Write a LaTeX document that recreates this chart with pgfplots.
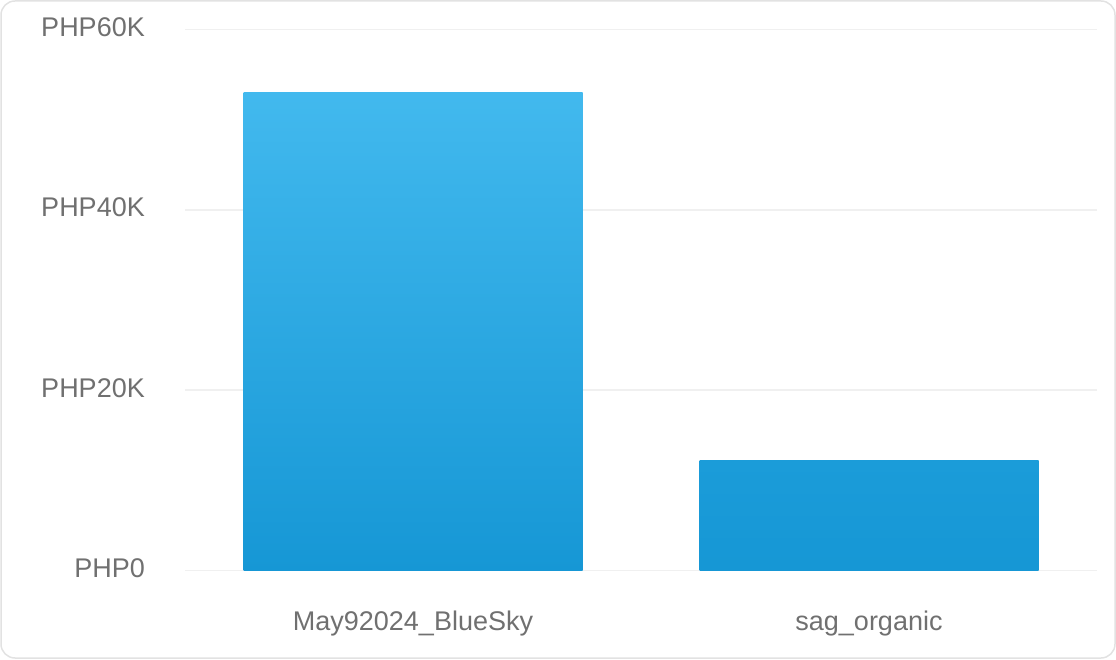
\documentclass[border=0pt]{standalone}
\usepackage{pgfplots}
\pgfplotsset{compat=1.18}
\usepackage{fontspec}
\setmainfont{Liberation Sans}
\definecolor{barTop}{HTML}{42B9EE}
\definecolor{barBot}{HTML}{1697D5}
\definecolor{barMid}{HTML}{1B9CD9}
\definecolor{tickgray}{HTML}{707070}
\definecolor{gridgray}{HTML}{F0F0F0}
\definecolor{cardborder}{HTML}{E2E2E2}
\begin{document}
\begin{tikzpicture}
\useasboundingbox (0,0) rectangle (1116pt,659pt);
\draw[cardborder, line width=1.5pt, rounded corners=14pt] (1pt,1pt) rectangle (1115pt,658pt);
\begin{axis}[
  at={(185pt,88.3pt)}, anchor=south west,
  scale only axis, width=912pt, height=541.4pt,
  xmin=-0.5, xmax=1.5, ymin=0, ymax=60000,
  scaled y ticks=false,
  axis line style={draw=none},
  tick style={draw=none},
  xtick={0,1}, xticklabels={May92024\_BlueSky, sag\_organic},
  ytick={0,20000,40000,60000},
  yticklabels={PHP0, PHP20K, PHP40K, PHP60K},
  ymajorgrids, grid style={gridgray, line width=1.5pt},
  yticklabel style={anchor=base east, inner sep=0pt, xshift=-40pt, yshift=-7pt, font=\fontsize{27}{32}\selectfont, text=tickgray},
  xticklabel style={anchor=base, inner sep=0pt, yshift=-60pt, font=\fontsize{27}{32}\selectfont, text=tickgray},
  clip=false,
]
\addplot[ybar, bar width=339pt, bar shift=0pt, draw=none, top color=barTop, bottom color=barBot] coordinates {(0,53000)};
\addplot[ybar, bar width=339pt, bar shift=0pt, draw=none, top color=barMid, bottom color=barBot] coordinates {(1,12200)};
\end{axis}
\end{tikzpicture}
\end{document}
